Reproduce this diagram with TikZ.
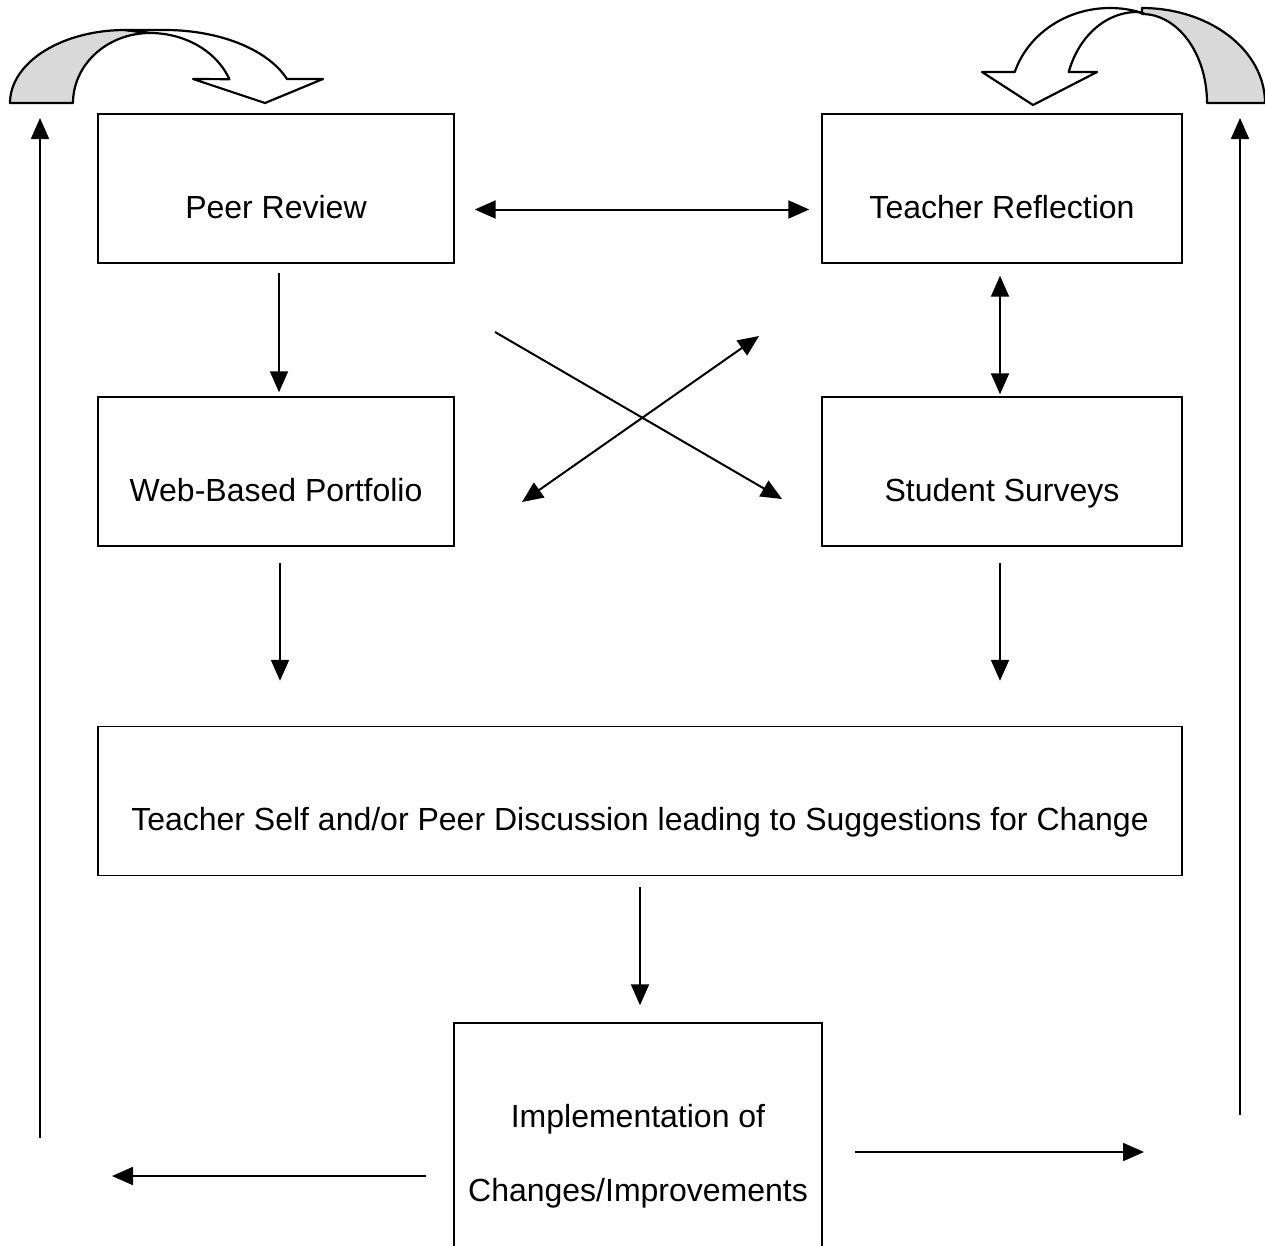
\documentclass[tikz,border=0pt]{standalone}
\usepackage{fontspec}
\setmainfont{Liberation Sans}
\usetikzlibrary{arrows.meta,calc}

\tikzset{
    box/.style={draw=black, line width=1.4pt, minimum width=356pt, minimum height=149pt, inner sep=0pt},
    txt/.style={font=\fontsize{32}{74}\selectfont, inner sep=0pt},
    line/.style={txt, text height=23pt, text depth=0pt},
    arr/.style={line width=2pt, -{Triangle[length=21pt,width=18pt]}},
    darr/.style={line width=2pt, {Triangle[length=21pt,width=18pt]}-{Triangle[length=21pt,width=18pt]}},
    band/.style={draw=black, line width=2.2pt, line join=round}
}

\begin{document}
\begin{tikzpicture}[x={(1pt,0pt)}, y={(0pt,-1pt)}]
    \useasboundingbox (0,0) rectangle (1265,1245);
    \clip (0,0) rectangle (1265,1245);
    % Below nodes are the boxes.
        \node[box] (peer) at (276,188.5) {};
        \node[box, minimum width=360pt] (refl) at (1002,188.5) {};
        \node[box] (web) at (276,471.5) {};
        \node[box, minimum width=360pt] (surv) at (1002,471.5) {};
        \node[box, minimum width=1084pt] (disc) at (640,801) {};
        \node[box, minimum width=368pt, minimum height=260pt] (impl) at (638,1153) {};
    % Below nodes are the labels.
        \node[line] (peerT) at ([yshift=-18pt]peer.center) {Peer Review};
        \node[line] (reflT) at ([yshift=-18pt]refl.center) {Teacher Reflection};
        \node[line] (webT) at ([yshift=-18pt]web.center) {Web-Based Portfolio};
        \node[line] (survT) at ([yshift=-18pt]surv.center) {Student Surveys};
        \node[line] (discT) at ([yshift=-18pt]disc.center) {Teacher Self and/or Peer Discussion leading to Suggestions for Change};
        \node[txt, align=center] (implT) at (638,1156) {Implementation of\\Changes/Improvements};
    % Free ends of the arrows.
        \coordinate (xa1) at (495,332);
        \coordinate (xa2) at (782,499);
        \coordinate (xb1) at (522,502);
        \coordinate (xb2) at (759,336);
        \coordinate (botL1) at (426,1176);
        \coordinate (botL2) at (112,1176);
        \coordinate (botR1) at (855,1152);
        \coordinate (botR2) at (1144,1152);
        \coordinate (sideL1) at (40,1138);
        \coordinate (sideL2) at (40,118);
        \coordinate (sideR1) at (1240,1115);
        \coordinate (sideR2) at (1240,118);
    % Arrows between the boxes.
        \draw[darr] ([xshift=20pt,yshift=-21pt]peer.east) -- ([xshift=-12pt,yshift=-21pt]refl.west);
        \draw[darr] ([xshift=-2pt,yshift=-12pt]refl.south) -- ([xshift=-2pt,yshift=2pt]surv.north);
        \draw[arr] ([xshift=3pt,yshift=-9pt]peer.south) -- ([xshift=3pt,yshift=4pt]web.north);
        \draw[arr] ([xshift=4pt,yshift=-16pt]web.south) -- ([xshift=-360pt,yshift=45pt]disc.north);
        \draw[arr] ([xshift=-2pt,yshift=-16pt]surv.south) -- ([xshift=360pt,yshift=45pt]disc.north);
        \draw[arr] ([yshift=-11pt]disc.south) -- ([xshift=2pt,yshift=17pt]impl.north);
        \draw[arr] (xa1) -- (xa2);
        \draw[darr] (xb1) -- (xb2);
        \draw[arr] (botL1) -- (botL2);
        \draw[arr] (botR1) -- (botR2);
        \draw[arr] (sideL1) -- (sideL2);
        \draw[arr] (sideR1) -- (sideR2);
    % This draws the curved block arrow at the top left.
        \filldraw[band, fill=gray!30] plot[domain=180:90, samples=40] ({125+115*cos(\x)},{103-73*sin(\x)})
            -- (150,33)
            -- plot[domain=90:180, samples=40] ({150+77*cos(\x)},{103-70*sin(\x)}) -- cycle;
        \filldraw[band, fill=white] (125,30) -- plot[domain=90:20.3, samples=40] ({165+130*cos(\x)},{105-75*sin(\x)})
            -- (323,79) -- (265,103) -- (193,79)
            -- plot[domain=21:90, samples=40] ({150+85*cos(\x)},{105-72*sin(\x)}) -- cycle;
    % This draws the curved block arrow at the top right.
        \filldraw[band, fill=gray!30] plot[domain=0:90, samples=40] ({1142+123*cos(\x)},{103-95*sin(\x)})
            -- plot[domain=90:0, samples=40] ({1142+65*cos(\x)},{103-89*sin(\x)}) -- cycle;
        \filldraw[band, fill=white] plot[domain=70:162.3, samples=40] ({1110+100*cos(\x)},{100-92*sin(\x)})
            -- (982,72) -- (1033,105) -- (1097,72)
            -- plot[domain=161.5:90, samples=40] ({1137+72*cos(\x)},{100-88*sin(\x)}) -- cycle;
\end{tikzpicture}
\end{document}
